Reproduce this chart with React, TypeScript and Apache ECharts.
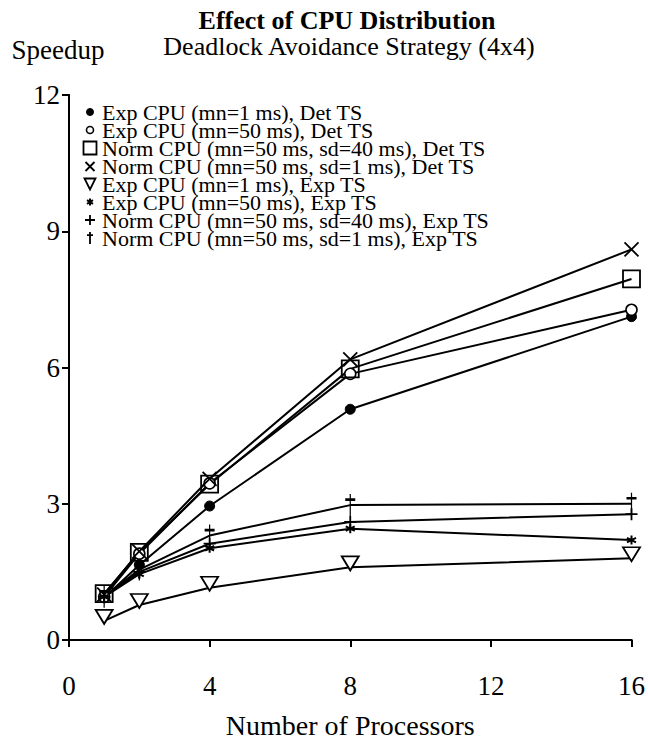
import React, { useEffect, useRef } from "react";
import * as echarts from "echarts";

// Number of processors on the x axis
const processors = [1, 2, 4, 8, 16];

// Speedup per configuration
const expCpu1Det = [0.93, 1.65, 2.95, 5.08, 7.12];
const expCpu50Det = [0.95, 1.9, 3.45, 5.86, 7.27];
const normCpuSd40Det = [1.02, 1.93, 3.43, 5.97, 7.95];
const normCpuSd1Det = [1.0, 1.95, 3.55, 6.18, 8.6];
const expCpu1Exp = [0.42, 0.77, 1.15, 1.6, 1.8];
const expCpu50Exp = [0.95, 1.45, 2.02, 2.45, 2.2];
const normCpuSd40Exp = [0.95, 1.5, 2.12, 2.6, 2.77];
const normCpuSd1Exp = [0.95, 1.55, 2.3, 2.97, 3.0];

const seriesNames = [
  "Exp CPU (mn=1 ms), Det TS",
  "Exp CPU (mn=50 ms), Det TS",
  "Norm CPU (mn=50 ms, sd=40 ms), Det TS",
  "Norm CPU (mn=50 ms, sd=1 ms), Det TS",
  "Exp CPU (mn=1 ms), Exp TS",
  "Exp CPU (mn=50 ms), Exp TS",
  "Norm CPU (mn=50 ms, sd=40 ms), Exp TS",
  "Norm CPU (mn=50 ms, sd=1 ms), Exp TS",
];

const seriesValues = [
  expCpu1Det,
  expCpu50Det,
  normCpuSd40Det,
  normCpuSd1Det,
  expCpu1Exp,
  expCpu50Exp,
  normCpuSd40Exp,
  normCpuSd1Exp,
];

const xTickStep = 4;
const yTickStep = 3;

const FONT = "'Liberation Serif', 'Times New Roman', serif";

// Marker shapes drawn at the data points
const DOT = "circle";
const SQUARE = "path://M0,0L10,0L10,10L0,10Z";
const CROSS = "path://M0,0L10,10M10,0L0,10";
const TRIANGLE = "path://M0,0L12,0L6,10Z";
const STAR = "path://M5,0L5,10M0.7,2.5L9.3,7.5M0.7,7.5L9.3,2.5";
const PLUS = "path://M5,0L5,10M0,5L10,5";
const DAGGER = "path://M5,0L5,14M1.5,3.5L8.5,3.5";

// Legend icons: the same shapes padded inside a 14x14 box
const PAD = "M0,0M14,14";
const lgDot = `path://${PAD}M10.5,7A3.5,3.5,0,1,1,3.5,7A3.5,3.5,0,1,1,10.5,7Z`;
const lgSquare = `path://${PAD}M0.5,0.5L13.5,0.5L13.5,13.5L0.5,13.5Z`;
const lgCross = `path://${PAD}M2.5,3L11.5,12M11.5,3L2.5,12`;
const lgTriangle = `path://${PAD}M1.5,1.5L12.5,1.5L7,12.5Z`;
const lgStar = `path://${PAD}M7,3.5L7,10.5M4,5.2L10,8.8M4,8.8L10,5.2`;
const lgPlus = `path://${PAD}M7,2L7,12M2,7L12,7`;
const lgDagger = `path://${PAD}M7,1L7,13M4,4.2L10,4.2`;

const markerStyles = [
  { symbol: DOT, size: 10, fill: "#000", bw: 1, offset: [0, 0], icon: lgDot },
  { symbol: DOT, size: 11, fill: "#fff", bw: 1.6, offset: [0, 0], icon: lgDot },
  { symbol: SQUARE, size: 17, fill: "rgba(0,0,0,0)", bw: 1.8, offset: [0, 0], icon: lgSquare },
  { symbol: CROSS, size: 14, fill: "#000", bw: 1.8, offset: [0, 0], icon: lgCross },
  { symbol: TRIANGLE, size: [17, 14], fill: "#fff", bw: 1.8, offset: [0, -4], icon: lgTriangle },
  { symbol: STAR, size: 9, fill: "#000", bw: 2, offset: [0, 0], icon: lgStar },
  { symbol: PLUS, size: 12, fill: "#000", bw: 1.8, offset: [0, 0], icon: lgPlus },
  { symbol: DAGGER, size: [10, 22], fill: "#000", bw: 1.8, offset: [0, 0], icon: lgDagger },
];

const LEGEND_FONT = 22;
const LEGEND_ROW = 18;

export default function App() {
  const ref = useRef<HTMLDivElement>(null);

  useEffect(() => {
    if (!ref.current) return;
    const chart = echarts.init(ref.current, undefined, { renderer: "svg" });

    const axisLine = { show: true, lineStyle: { color: "#000", width: 2 } };
    const tickLine = { color: "#000", width: 2 };

    const series = seriesNames.map((name, i) => {
      const m = markerStyles[i];
      return {
        type: "line",
        name,
        xAxisIndex: 0,
        yAxisIndex: 0,
        data: processors.map((p, j) => [p, seriesValues[i][j]]),
        symbol: m.symbol,
        symbolSize: m.size,
        symbolOffset: m.offset,
        showSymbol: true,
        clip: false,
        lineStyle: { color: "#000", width: 2 },
        itemStyle: { color: m.fill, borderColor: "#000", borderWidth: m.bw },
        emphasis: { disabled: true },
      };
    });

    chart.setOption({
      animation: false,
      backgroundColor: "#fff",
      graphic: [
        {
          type: "text",
          x: 347,
          y: 20,
          style: {
            text: "Effect of CPU Distribution",
            fontFamily: FONT,
            fontSize: 26,
            fontWeight: "bold",
            fill: "#000",
            align: "center",
            verticalAlign: "middle",
          },
        },
        {
          type: "text",
          x: 349,
          y: 46,
          style: {
            text: "Deadlock Avoidance Strategy (4x4)",
            fontFamily: FONT,
            fontSize: 26,
            fill: "#000",
            align: "center",
            verticalAlign: "middle",
          },
        },
      ],
      legend: {
        orient: "vertical",
        left: 82,
        top: 101,
        padding: 0,
        itemWidth: 14,
        itemHeight: 14,
        itemGap: LEGEND_ROW - LEGEND_FONT,
        itemTextGap: 8,
        selectedMode: false,
        textStyle: { fontFamily: FONT, fontSize: LEGEND_FONT, color: "#000" },
        data: seriesNames.map((name, i) => ({
          name,
          icon: markerStyles[i].icon,
          itemStyle: {
            color: markerStyles[i].fill,
            borderColor: "#000",
            borderWidth: markerStyles[i].bw,
          },
        })),
      },
      grid: { left: 69, right: 16, top: 95, bottom: 96, containLabel: false },
      xAxis: [
        {
          type: "value",
          position: "bottom",
          min: 0,
          max: 16,
          interval: xTickStep,
          axisLine,
          axisTick: { show: true, inside: false, length: 7, lineStyle: tickLine },
          axisLabel: { color: "#000", fontFamily: FONT, fontSize: 27, margin: 32 },
          splitLine: { show: false },
          name: "Number of Processors",
          nameLocation: "middle",
          nameGap: 71,
          nameTextStyle: { color: "#000", fontFamily: FONT, fontSize: 28 },
        },
        {
          type: "value",
          position: "top",
          min: 0,
          max: 16,
          interval: xTickStep,
          axisLine,
          axisTick: { show: true, inside: true, length: 7, lineStyle: tickLine },
          axisLabel: { show: false },
          splitLine: { show: false },
        },
      ],
      yAxis: [
        {
          type: "value",
          position: "left",
          min: 0,
          max: 12,
          interval: yTickStep,
          axisLine,
          axisTick: { show: true, inside: false, length: 7, lineStyle: tickLine },
          axisLabel: { color: "#000", fontFamily: FONT, fontSize: 27, margin: 9 },
          splitLine: { show: false },
          name: "Speedup",
          nameLocation: "end",
          nameGap: 32,
          nameTextStyle: {
            color: "#000",
            fontFamily: FONT,
            fontSize: 27,
            padding: [0, 22, 0, 0],
          },
        },
        {
          type: "value",
          position: "right",
          min: 0,
          max: 12,
          interval: yTickStep,
          axisLine,
          axisTick: { show: true, inside: true, length: 7, lineStyle: tickLine },
          axisLabel: { show: false },
          splitLine: { show: false },
        },
      ],
      series,
    });

    return () => chart.dispose();
  }, []);

  return (
    <div
      ref={ref}
      style={{ position: "absolute", left: 0, top: 0, width: 648, height: 744, background: "#fff" }}
    />
  );
}
